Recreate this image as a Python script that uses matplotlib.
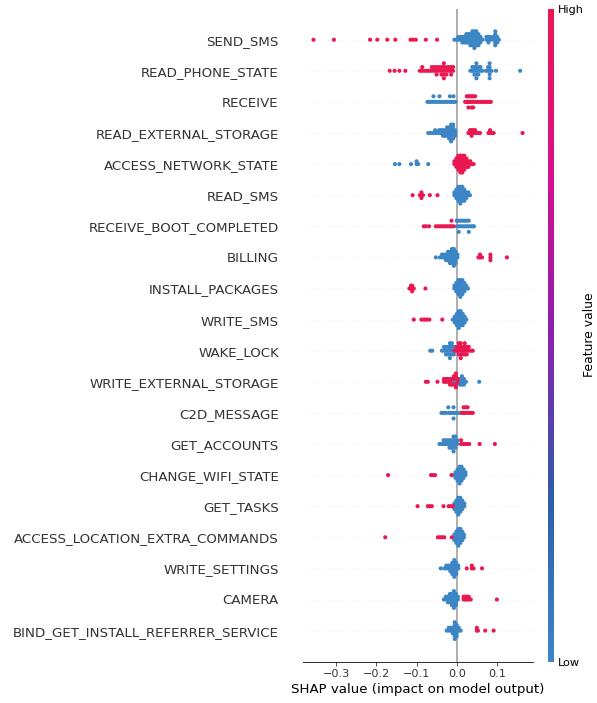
import numpy as np
import matplotlib
matplotlib.use("Agg")
import matplotlib.pyplot as plt
from matplotlib.colors import LinearSegmentedColormap
from matplotlib.cm import ScalarMappable

# Features, top to bottom
features = [
    "SEND_SMS", "READ_PHONE_STATE", "RECEIVE", "READ_EXTERNAL_STORAGE",
    "ACCESS_NETWORK_STATE", "READ_SMS", "RECEIVE_BOOT_COMPLETED", "BILLING",
    "INSTALL_PACKAGES", "WRITE_SMS", "WAKE_LOCK", "WRITE_EXTERNAL_STORAGE",
    "C2D_MESSAGE", "GET_ACCOUNTS", "CHANGE_WIFI_STATE", "GET_TASKS",
    "ACCESS_LOCATION_EXTRA_COMMANDS", "WRITE_SETTINGS", "CAMERA",
    "BIND_GET_INSTALL_REFERRER_SERVICE",
]

# (SHAP value, number of samples)
send_sms_high = [(-0.357, 1), (-0.306, 1), (-0.216, 1), (-0.198, 1), (-0.173, 1), (-0.153, 1),
                 (-0.115, 1), (-0.109, 1), (-0.102, 1), (-0.077, 1), (-0.049, 1)]
send_sms_low = [(-0.006, 1), (-0.001, 1), (0.004, 2), (0.009, 2), (0.014, 3), (0.019, 3), (0.024, 4),
                (0.029, 4), (0.034, 5), (0.039, 6), (0.044, 7), (0.049, 6), (0.054, 5), (0.059, 3),
                (0.064, 1), (0.074, 2), (0.079, 3), (0.084, 2), (0.091, 2), (0.096, 6), (0.101, 3),
                (0.105, 1)]

read_phone_state_high = [(-0.167, 1), (-0.155, 1), (-0.143, 1), (-0.128, 1), (-0.092, 1), (-0.086, 2),
                         (-0.080, 1), (-0.074, 1), (-0.068, 1), (-0.062, 2), (-0.056, 2), (-0.050, 3),
                         (-0.044, 2), (-0.038, 3), (-0.032, 5), (-0.026, 3), (-0.020, 2), (-0.014, 3),
                         (-0.009, 2)]
read_phone_state_low = [(0.034, 1), (0.039, 2), (0.044, 3), (0.049, 5), (0.054, 3), (0.059, 2),
                        (0.064, 1), (0.073, 1), (0.078, 2), (0.082, 5), (0.087, 1), (0.098, 1),
                        (0.158, 1)]

receive_high = [(0.021, 1), (0.025, 2), (0.029, 3), (0.033, 2), (0.037, 3), (0.041, 3), (0.046, 2),
                (0.050, 1), (0.055, 1), (0.060, 1), (0.065, 1), (0.070, 1), (0.075, 1), (0.080, 1),
                (0.085, 1)]
receive_low = [(-0.073, 1), (-0.068, 1), (-0.063, 1), (-0.058, 2), (-0.053, 1), (-0.048, 1),
               (-0.043, 2), (-0.038, 1), (-0.033, 1), (-0.028, 1), (-0.023, 1), (-0.017, 2),
               (-0.012, 1), (-0.008, 2), (-0.003, 1)]

read_external_storage_high = [(0.029, 1), (0.033, 2), (0.037, 3), (0.041, 2), (0.046, 2), (0.050, 1),
                              (0.055, 1), (0.058, 1), (0.079, 1), (0.083, 2), (0.088, 1), (0.092, 1),
                              (0.164, 1)]
read_external_storage_low = [(-0.071, 1), (-0.065, 1), (-0.059, 1), (-0.054, 2), (-0.049, 1), (-0.044, 2),
                             (-0.039, 2), (-0.034, 3), (-0.029, 3), (-0.024, 4), (-0.019, 5), (-0.014, 7),
                             (-0.009, 6), (-0.004, 3)]

access_network_state_high = [(-0.006, 2), (-0.001, 4), (0.004, 6), (0.009, 7), (0.014, 7), (0.019, 6),
                             (0.024, 4), (0.029, 3), (0.034, 2), (0.039, 1), (0.042, 1)]
access_network_state_low = [(-0.154, 1), (-0.143, 1), (-0.114, 1), (-0.100, 2), (-0.096, 1), (-0.071, 1)]

read_sms_high = [(-0.110, 1), (-0.092, 1), (-0.088, 3), (-0.084, 1), (-0.067, 1), (-0.048, 1)]
read_sms_low = [(-0.006, 2), (-0.001, 4), (0.004, 6), (0.009, 7), (0.014, 6), (0.019, 5), (0.024, 3),
                (0.029, 2), (0.033, 1)]

receive_boot_completed_high = [(-0.082, 1), (-0.077, 1), (-0.069, 1), (-0.052, 1), (-0.047, 1),
                               (-0.042, 1), (-0.037, 1), (-0.032, 1), (-0.027, 1), (-0.022, 1),
                               (-0.017, 1), (-0.013, 2), (-0.008, 1)]
receive_boot_completed_low = [(0.000, 2), (0.005, 3), (0.010, 2), (0.015, 2), (0.020, 2), (0.025, 2),
                              (0.030, 3), (0.035, 1), (0.040, 1), (0.043, 1)]

billing_high = [(0.054, 1), (0.058, 2), (0.063, 1), (0.084, 3), (0.125, 1)]
billing_low = [(-0.052, 1), (-0.042, 1), (-0.037, 2), (-0.032, 2), (-0.027, 3), (-0.022, 4), (-0.017, 5),
               (-0.012, 6), (-0.007, 7), (-0.003, 5), (0.002, 2)]

install_packages_high = [(-0.118, 1), (-0.114, 2), (-0.111, 3), (-0.107, 1), (-0.078, 1)]
install_packages_low = [(-0.006, 2), (-0.001, 4), (0.004, 6), (0.009, 7), (0.014, 6), (0.019, 4),
                        (0.024, 2), (0.028, 1)]

write_sms_high = [(-0.107, 1), (-0.088, 1), (-0.083, 1), (-0.079, 1), (-0.074, 1), (-0.068, 1),
                  (-0.036, 1)]
write_sms_low = [(-0.010, 1), (-0.005, 3), (0.000, 5), (0.005, 7), (0.010, 6), (0.015, 5), (0.020, 3),
                 (0.024, 1)]

wake_lock_high = [(-0.006, 1), (0.000, 2), (0.005, 4), (0.010, 5), (0.015, 3), (0.020, 4), (0.025, 3),
                  (0.030, 2), (0.035, 1), (0.040, 1)]
wake_lock_low = [(-0.066, 1), (-0.061, 1), (-0.037, 1), (-0.032, 2), (-0.027, 3), (-0.022, 3),
                 (-0.017, 5), (-0.012, 4), (-0.007, 3), (-0.002, 2), (0.003, 1)]

write_external_storage_high = [(-0.077, 1), (-0.072, 1), (-0.048, 1), (-0.032, 2), (-0.027, 2),
                               (-0.022, 2), (-0.017, 3), (-0.012, 2), (-0.007, 3), (-0.002, 4),
                               (0.002, 2)]
write_external_storage_low = [(-0.012, 1), (-0.007, 1), (-0.002, 2), (0.003, 2), (0.008, 3), (0.013, 4),
                              (0.018, 3), (0.023, 1), (0.056, 1)]

c2d_message_high = [(0.013, 1), (0.017, 2), (0.022, 2), (0.027, 2), (0.032, 1), (0.036, 1), (0.040, 1)]
c2d_message_low = [(-0.038, 1), (-0.033, 1), (-0.028, 1), (-0.021, 2), (-0.016, 1), (-0.012, 1),
                   (-0.008, 3), (-0.003, 1), (0.002, 1), (0.007, 1), (0.012, 1)]

get_accounts_high = [(0.011, 2), (0.016, 1), (0.021, 1), (0.026, 1), (0.031, 1), (0.057, 1), (0.095, 1)]
get_accounts_low = [(-0.043, 1), (-0.038, 1), (-0.033, 2), (-0.028, 2), (-0.023, 2), (-0.018, 3),
                    (-0.013, 3), (-0.008, 5), (-0.003, 4), (0.002, 2)]

change_wifi_state_high = [(-0.171, 1), (-0.064, 1), (-0.059, 1), (-0.054, 1), (-0.013, 1)]
change_wifi_state_low = [(-0.008, 1), (-0.003, 3), (0.002, 5), (0.007, 7), (0.012, 6), (0.017, 4),
                         (0.022, 2)]

get_tasks_high = [(-0.0975, 1), (-0.072, 1), (-0.067, 1), (-0.062, 1), (-0.033, 1),
                  (-0.020, 1), (-0.015, 1), (-0.010, 1)]
get_tasks_low = [(-0.006, 3), (-0.001, 5), (0.004, 7), (0.009, 6), (0.014, 4), (0.019, 2)]

access_location_high = [(-0.178, 1), (-0.047, 1), (-0.042, 1), (-0.037, 1), (-0.031, 1), (-0.0125, 1)]
access_location_low = [(-0.006, 3), (-0.001, 5), (0.004, 7), (0.009, 6), (0.014, 4), (0.018, 2)]

write_settings_high = [(0.025, 1), (0.0375, 2), (0.042, 1), (0.063, 1)]
write_settings_low = [(-0.040, 1), (-0.031, 1), (-0.026, 2), (-0.021, 2), (-0.016, 3), (-0.011, 5),
                      (-0.006, 7), (-0.001, 5), (0.004, 2)]

camera_high = [(0.017, 2), (0.021, 2), (0.025, 2), (0.030, 2), (0.035, 1), (0.100, 1)]
camera_low = [(-0.032, 1), (-0.027, 2), (-0.022, 3), (-0.017, 4), (-0.012, 5), (-0.007, 7), (-0.002, 5),
              (0.003, 2)]

bind_referrer_high = [(0.050, 2), (0.053, 1), (0.071, 1), (0.092, 1)]
bind_referrer_low = [(-0.025, 1), (-0.020, 2), (-0.015, 2), (-0.010, 3), (-0.005, 7), (0.000, 5),
                     (0.005, 2), (0.010, 1)]

high_points = [send_sms_high, read_phone_state_high, receive_high, read_external_storage_high,
               access_network_state_high, read_sms_high, receive_boot_completed_high, billing_high,
               install_packages_high, write_sms_high, wake_lock_high, write_external_storage_high,
               c2d_message_high, get_accounts_high, change_wifi_state_high, get_tasks_high,
               access_location_high, write_settings_high, camera_high, bind_referrer_high]
low_points = [send_sms_low, read_phone_state_low, receive_low, read_external_storage_low,
              access_network_state_low, read_sms_low, receive_boot_completed_low, billing_low,
              install_packages_low, write_sms_low, wake_lock_low, write_external_storage_low,
              c2d_message_low, get_accounts_low, change_wifi_state_low, get_tasks_low,
              access_location_low, write_settings_low, camera_low, bind_referrer_low]

# colour map approximating the reference colour bar
cmap = LinearSegmentedColormap.from_list(
    "red_blue_ref",
    [(0.0, "#3d86c6"), (0.25, "#2e5dab"), (0.5, "#8a20b0"), (0.75, "#d8108a"), (1.0, "#ea1850")])

axis_color = "#333333"


def swarm_offsets(shaps, row_height=0.4, nbins=100):
    n = len(shaps)
    quant = np.round(nbins * (shaps - shaps.min()) / (shaps.max() - shaps.min() + 1e-8))
    inds = np.argsort(quant, kind="stable")
    layer = 0
    last_bin = -1
    ys = np.zeros(n)
    for ind in inds:
        if quant[ind] != last_bin:
            layer = 0
        ys[ind] = np.ceil(layer / 2) * ((layer % 2) * 2 - 1)
        layer += 1
        last_bin = quant[ind]
    ys *= 0.9 * (row_height / np.max(ys + 1))
    return ys


W, H, DPI = 597, 703, 74
fig = plt.figure(figsize=(W / DPI, H / DPI), dpi=DPI)
ax_bottom = (H - 661.7) / H
ax_height = (661.7 - 8.6) / H
ax = fig.add_axes([303 / W, ax_bottom, 230 / W, ax_height])

nfeat = len(features)
ax.axvline(x=0, color="#999999", zorder=-1)
for i, (hp, lp) in enumerate(zip(high_points, low_points)):
    pos = nfeat - 1 - i
    ax.axhline(y=pos, color="#cccccc", lw=0.5, dashes=(1, 5), zorder=-1)
    lows = [v for v, n in lp for _ in range(n)]
    highs = [v for v, n in hp for _ in range(n)]
    shaps = np.array(lows + highs)
    fvals = np.array([0.0] * len(lows) + [1.0] * len(highs))
    ys = swarm_offsets(shaps)
    ax.scatter(shaps, pos + ys, c=fvals, cmap=cmap, vmin=0, vmax=1, s=16,
               alpha=1, linewidth=0, zorder=3, rasterized=True)

ax.xaxis.set_ticks_position("bottom")
ax.yaxis.set_ticks_position("none")
for sp in ["right", "top", "left"]:
    ax.spines[sp].set_visible(False)
ax.tick_params(color=axis_color, labelcolor=axis_color)
ax.set_yticks(range(nfeat))
ax.set_yticklabels(features[::-1], fontsize=13)
ax.tick_params("y", length=20, width=0.5, which="major")
ax.tick_params("x", labelsize=11)
ax.set_ylim(-1, nfeat)
ax.set_xticks([-0.3, -0.2, -0.1, 0.0, 0.1])
ax.set_xlabel("SHAP value (impact on model output)", fontsize=13)

cax = fig.add_axes([548 / W, ax_bottom, 6 / W, ax_height])
sm = ScalarMappable(cmap=cmap)
sm.set_array([0, 1])
cb = fig.colorbar(sm, cax=cax, ticks=[0, 1])
cb.set_ticklabels(["Low", "High"])
cb.set_label("Feature value", size=12, labelpad=0)
cb.ax.tick_params(labelsize=11, length=0)
cb.outline.set_visible(False)

fig.savefig("out.png", dpi=DPI)
